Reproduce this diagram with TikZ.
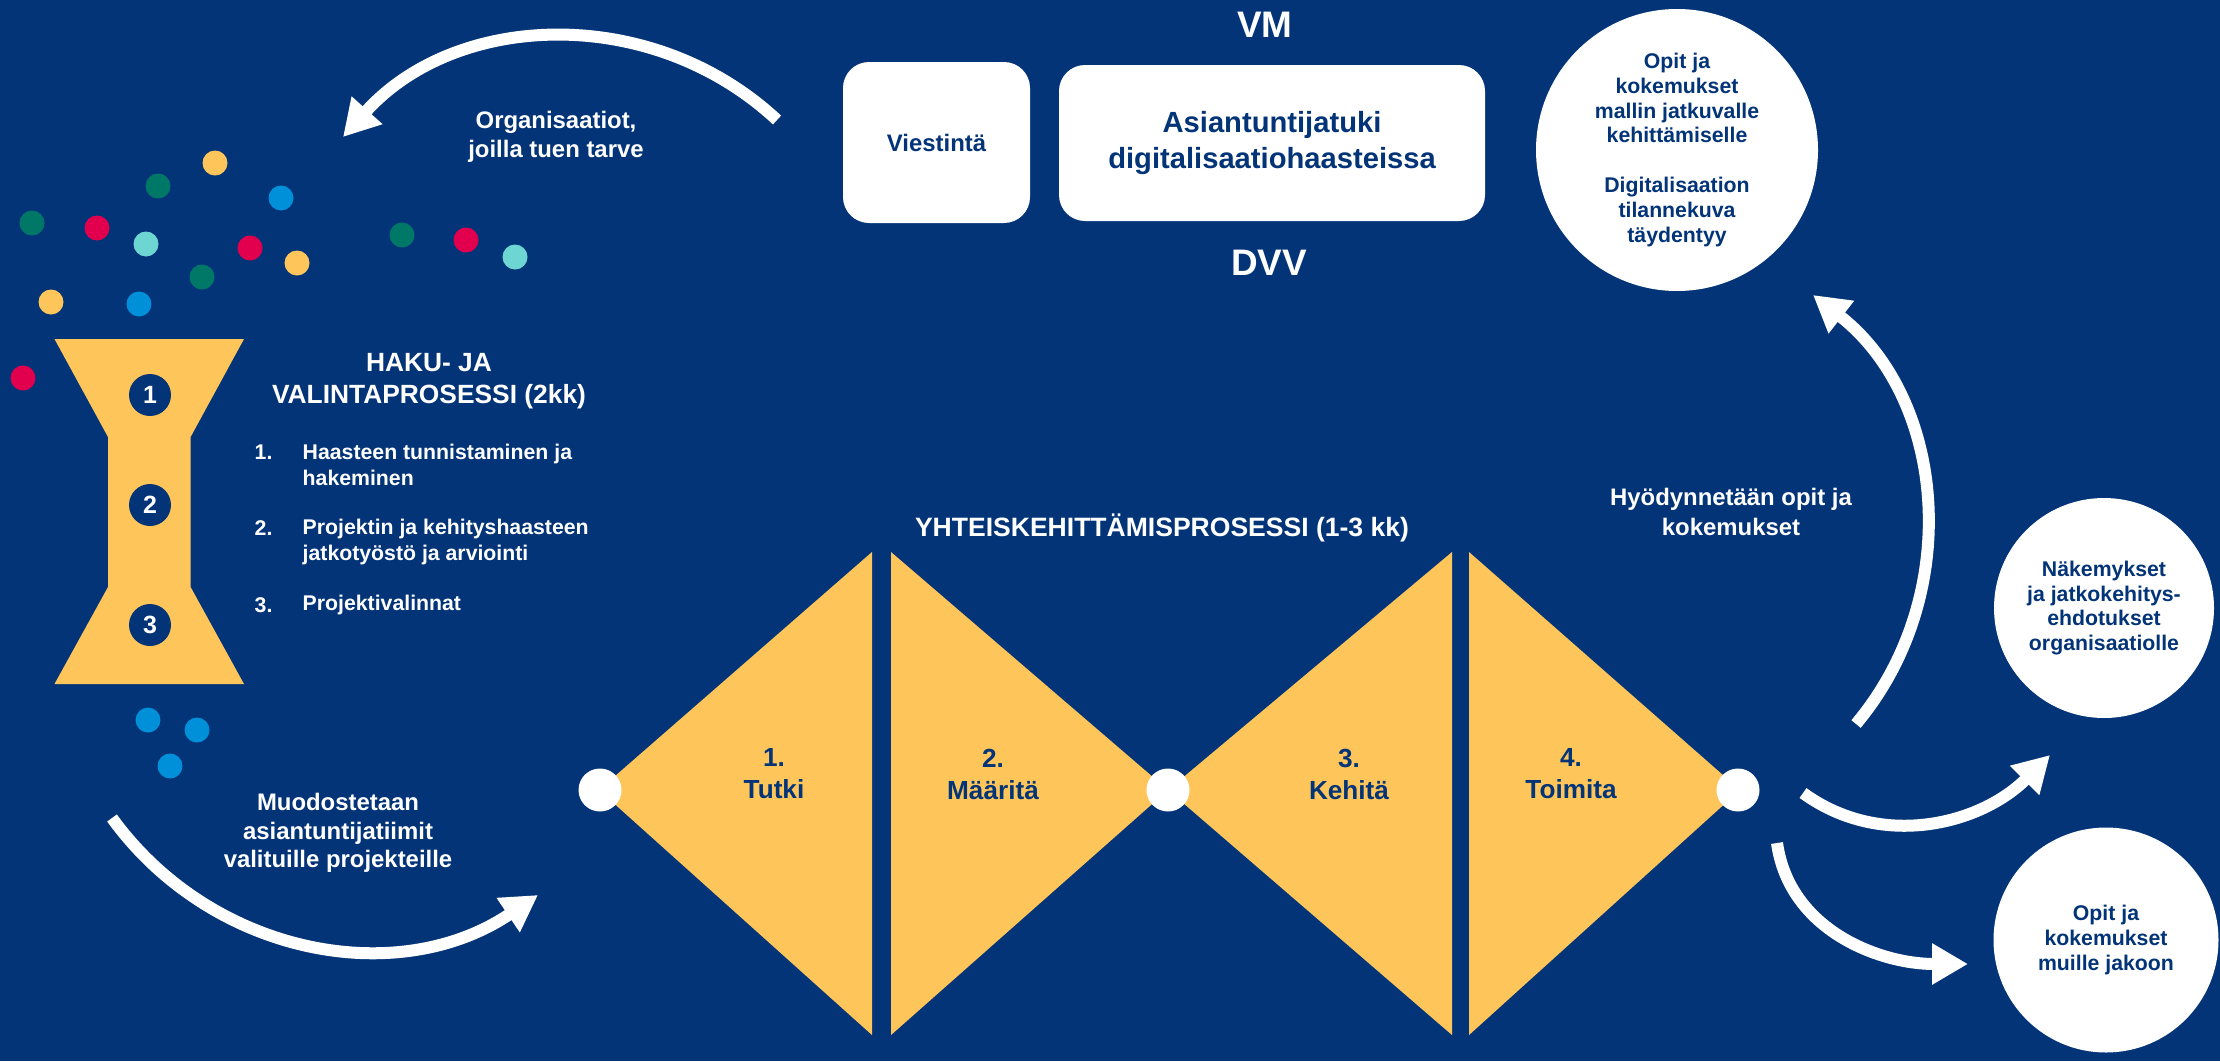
\documentclass[tikz,border=0pt]{standalone}
\usepackage{fontspec}
\setmainfont{Liberation Sans}
\usepackage{xcolor}
\usepackage{tikz}
\usetikzlibrary{
arrows.meta,
shapes.geometric
}
\definecolor{dvblue}{RGB}{3,52,120}
\definecolor{dvyellow}{RGB}{254,198,90}
\definecolor{dvteal}{RGB}{0,120,104}
\definecolor{dvred}{RGB}{226,0,78}
\definecolor{dvcyan}{RGB}{110,214,210}
\definecolor{dvsky}{RGB}{0,144,218}
\newcommand{\dvfont}[2]{\fontsize{#1}{#2}\selectfont\bfseries}

\begin{document}
\begin{tikzpicture}[
  >={Triangle[length=3.6mm, width=3.9mm]},
  bigarrow/.style={->, white, line width=1.2mm},
  whitetxt/.style={text=white, align=center, inner sep=0pt},
  listtxt/.style={text=white, align=left, inner sep=0pt,
                  font=\dvfont{6.05}{7.4}},
  panel/.style={fill=white, rounded corners=2.6mm, text=dvblue,
                align=center, inner sep=0pt},
  bubble/.style={circle, fill=white, minimum size=2.2cm, inner sep=0pt,
                 text=dvblue, align=center, font=\dvfont{6.05}{7.0}},
  stepno/.style={circle, fill=dvblue, minimum size=4.2mm, inner sep=0pt,
                 text=white, font=\dvfont{7.1}{8}},
  joint/.style={circle, fill=white, minimum size=4.3mm, inner sep=0pt},
  phase/.style={text=dvblue, align=center, inner sep=0pt,
                font=\dvfont{7.45}{9.1}}
]

\useasboundingbox (0,0) rectangle (22.2,10.61);
\fill[dvblue] (0,0) rectangle (22.2,10.61);

%% Owners and support boxes
\node[whitetxt, font=\dvfont{10.5}{12}] (vm) at (12.65,10.36) {VM};
\node[whitetxt, font=\dvfont{10.5}{12}] (dvv) at (12.69,7.98) {DVV};
\node[panel, minimum width=1.87cm, minimum height=1.61cm,
      font=\dvfont{6.8}{8}] (viest) at (9.365,9.185) {Viestintä};
\node[panel, minimum width=4.26cm, minimum height=1.56cm,
      font=\dvfont{8.3}{10}] (tuki) at (12.72,9.18)
  {Asiantuntijatuki\\digitalisaatiohaasteissa};

%% Organisations (dots)
\fill[dvyellow] (2.15,8.98) circle (0.125) (2.97,7.98) circle (0.125)
                (0.51,7.59) circle (0.125);
\fill[dvteal]   (1.58,8.75) circle (0.125) (0.32,8.38) circle (0.125)
                (2.02,7.84) circle (0.125) (4.02,8.26) circle (0.125);
\fill[dvsky]    (2.81,8.63) circle (0.125) (1.39,7.57) circle (0.125);
\fill[dvred]    (0.97,8.33) circle (0.125) (2.50,8.13) circle (0.125)
                (4.66,8.21) circle (0.125) (0.23,6.83) circle (0.125);
\fill[dvcyan]   (1.46,8.17) circle (0.125) (5.15,8.04) circle (0.125);
\fill[dvsky]    (1.48,3.41) circle (0.125) (1.97,3.31) circle (0.125)
                (1.70,2.95) circle (0.125);

%% Selection funnel
\fill[dvyellow] (0.545,7.22) -- (2.44,7.22) -- (1.906,6.24) -- (1.906,4.74)
  -- (2.44,3.77) -- (0.545,3.77) -- (1.08,4.74) -- (1.08,6.24) -- cycle;
\node[stepno] (s1) at (1.50,6.66) {1};
\node[stepno] (s2) at (1.50,5.56) {2};
\node[stepno] (s3) at (1.50,4.36) {3};

\node[whitetxt, font=\dvfont{7.5}{9.1}] (haku) at (4.29,6.80)
  {HAKU- JA\\VALINTAPROSESSI (2kk)};
\node[listtxt, anchor=west] (n1) at (2.54,6.09) {1.};
\node[listtxt, anchor=west] (i1) at (3.02,5.965)
  {Haasteen tunnistaminen ja\\hakeminen};
\node[listtxt, anchor=west] (n2) at (2.54,5.33) {2.};
\node[listtxt, anchor=west] (i2) at (3.02,5.195)
  {Projektin ja kehityshaasteen\\jatkotyöstö ja arviointi};
\node[listtxt, anchor=west] (n3) at (2.54,4.56) {3.};
\node[listtxt, anchor=west] (i3) at (3.02,4.56) {Projektivalinnat};

%% Co-development (double diamond)
\node[whitetxt, font=\dvfont{7.55}{9}] (yht) at (11.62,5.33)
  {YHTEISKEHITTÄMISPROSESSI (1-3 kk)};
\fill[dvyellow] (5.99,2.71) -- (8.72,5.09) -- (8.72,0.26) -- cycle;
\fill[dvyellow] (8.91,5.09) -- (11.68,2.71) -- (8.91,0.26) -- cycle;
\fill[dvyellow] (11.68,2.71) -- (14.52,5.09) -- (14.52,0.26) -- cycle;
\fill[dvyellow] (14.69,5.09) -- (17.40,2.71) -- (14.69,0.26) -- cycle;
\node[joint] (j0) at (6.00,2.71) {};
\node[joint] (j1) at (11.68,2.71) {};
\node[joint] (j2) at (17.38,2.71) {};
\node[phase] (p1) at (7.74,2.87) {1.\\Tutki};
\node[phase] (p2) at (9.93,2.87) {2.\\Määritä};
\node[phase] (p3) at (13.49,2.87) {3.\\Kehitä};
\node[phase] (p4) at (15.71,2.87) {4.\\Toimita};

%% Outcomes
\node[bubble, minimum size=2.82cm] (learn) at (16.77,9.11)
  {Opit ja\\kokemukset\\mallin jatkuvalle\\kehittämiselle\\[7.3pt]
   Digitalisaation\\tilannekuva\\täydentyy};
\node[bubble, minimum size=2.2cm] (views) at (21.04,4.53)
  {Näkemykset\\ja jatkokehitys-\\ehdotukset\\organisaatiolle};
\node[bubble, minimum size=2.25cm] (share) at (21.06,1.21)
  {Opit ja\\kokemukset\\muille jakoon};

%% Labels on the flow
\node[whitetxt, font=\dvfont{6.8}{8.25}] (orglbl) at (5.56,9.24)
  {Organisaatiot,\\joilla tuen tarve};
\node[whitetxt, font=\dvfont{6.8}{8.1}] (teamlbl) at (3.38,2.28)
  {Muodostetaan\\asiantuntijatiimit\\valituille projekteille};
\node[whitetxt, font=\dvfont{6.8}{8.5}] (reuselbl) at (17.31,5.49)
  {Hyödynnetään opit ja\\kokemukset};

%% Flow arrows
\coordinate (org a) at (7.77,9.41);
\coordinate (org b) at (3.43,9.24);
\coordinate (team a) at (1.12,2.43);
\coordinate (team b) at (5.38,1.66);
\coordinate (up a) at (18.56,3.37);
\coordinate (up b) at (18.13,7.66);
\coordinate (view a) at (18.03,2.68);
\coordinate (view b) at (20.50,3.06);
\coordinate (share a) at (17.77,2.18);
\coordinate (share b) at (19.68,0.97);

\draw[bigarrow] (org a) to[out=137, in=48] (org b);
\draw[bigarrow] (team a) to[out=-54, in=214] (team b);
\draw[bigarrow] (up a) to[out=50, in=-38] (up b);
\draw[bigarrow] (view a) to[out=-36, in=-135] (view b);
\draw[bigarrow] (share a) to[out=-82, in=180] (share b);

\end{tikzpicture}
\end{document}
